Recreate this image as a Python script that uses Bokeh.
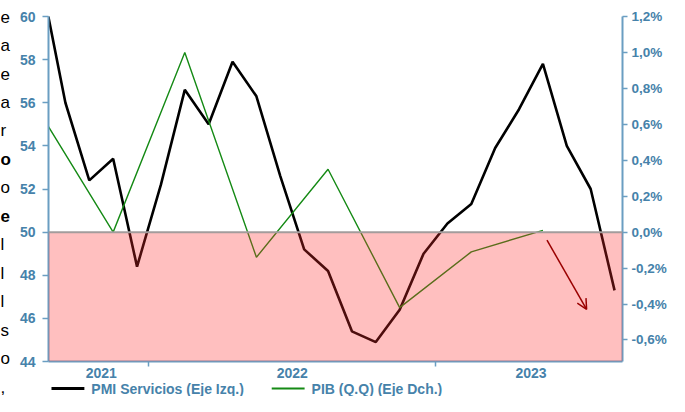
from bokeh.plotting import figure
from bokeh.models import (Range1d, LinearAxis, FixedTicker, CustomJSTickFormatter,
                          BoxAnnotation, Span, Arrow, OpenHead, ColumnDataSource)
from bokeh.layouts import row, column
from bokeh.core.properties import value
from bokeh.embed import file_html
from bokeh.resources import INLINE

# ---- data (monthly index 0 = Aug-2021 ... 24 = Aug-2023) ----
months = ["ago-21", "sep-21", "oct-21", "nov-21", "dic-21", "ene-22", "feb-22", "mar-22",
          "abr-22", "may-22", "jun-22", "jul-22", "ago-22", "sep-22", "oct-22", "nov-22",
          "dic-22", "ene-23", "feb-23", "mar-23", "abr-23", "may-23", "jun-23", "jul-23", "ago-23"]
month_idx = list(range(len(months)))
pmi_servicios = [61.6, 56.0, 52.4, 53.4, 48.4, 52.2, 56.6, 55.0, 57.9, 56.3, 52.6, 49.2,
                 48.2, 45.4, 44.9, 46.4, 49.0, 50.4, 51.3, 53.9, 55.7, 57.8, 54.0, 52.0, 47.3]
# quarterly GDP plotted on the middle month of each quarter
gdp_idx = [0, 3, 6, 9, 12, 15, 18, 21]
pib_qq = [0.65, 0.0, 1.0, -0.14, 0.35, -0.42, -0.11, 0.01]

year_labels = {2.5: "2021", 10.5: "2022", 20.5: "2023"}
year_bounds = [4.5, 16.5]
left_ticks = [44, 46, 48, 50, 52, 54, 56, 58, 60]
right_ticks = [-0.6, -0.4, -0.2, 0.0, 0.2, 0.4, 0.6, 0.8, 1.0, 1.2]

legend_labels = ["PMI Servicios (Eje Izq.)", "PIB (Q.Q) (Eje Dch.)"]
legend_colors = ["black", "#158A15"]
legend_widths = [3, 2]

side_letters = ["e", "a", "e", "a", "r", "o", "o", "e", "l", "l", "l", "s", "o", ","]
side_styles = ["normal"] * 5 + ["bold", "normal", "bold"] + ["normal"] * 6

AX_LINE = "#6A9EC2"
AX_TEXT = "#4682AA"
FONT = "Liberation Sans"

W_SIDE = 13
W_MAIN = 656
H_TOTAL = 396
H_MAIN = 380
H_LEG = H_TOTAL - H_MAIN
B_LEFT, B_RIGHT = 35, 45

def strip(width, height, xr, yr):
    fig = figure(width=width, height=height, x_range=xr, y_range=yr,
                 x_axis_location=None, y_axis_location=None,
                 output_backend="svg", toolbar_location=None,
                 min_border_left=0, min_border_right=0, min_border_top=0, min_border_bottom=0)
    fig.grid.visible = False
    fig.outline_line_color = None
    return fig

# ---------------- main chart ----------------
p = figure(width=W_MAIN, height=H_MAIN,
           x_range=Range1d(0.2917, 24.333), y_range=Range1d(44, 60),
           output_backend="svg", toolbar_location=None,
           min_border_left=B_LEFT, min_border_right=B_RIGHT, min_border_top=16, min_border_bottom=17)
p.extra_y_ranges = {"pct": Range1d(-0.72, 1.2)}
p.outline_line_color = None
p.xgrid.visible = False
p.ygrid.visible = False

p.line(month_idx, pmi_servicios, line_color="black", line_width=2.6)
p.line(gdp_idx, pib_qq, y_range_name="pct", line_color="#158A15", line_width=1.4)

# negative zone shading (drawn over the lines, translucent)
p.add_layout(BoxAnnotation(top=50, fill_color="#FF2A2A", fill_alpha=0.3, line_color=None))
p.add_layout(Span(location=50, dimension="width", line_color="#A39C9C", line_width=2))

p.add_layout(Arrow(end=OpenHead(size=10, line_color="#9A0000", line_width=1.5),
                   x_start=21.17, y_start=49.63, x_end=22.83, y_end=46.42,
                   line_color="#9A0000", line_width=1.5))

def style_axis(ax, size):
    ax.axis_line_color = AX_LINE
    ax.axis_line_width = 2
    ax.major_tick_line_color = AX_LINE
    ax.major_tick_line_width = 1.5
    ax.minor_tick_line_color = None
    ax.major_label_text_color = AX_TEXT
    ax.major_label_text_font = FONT
    ax.major_label_text_font_style = "bold"
    ax.major_label_text_font_size = size

yl = p.yaxis[0]
yl.ticker = FixedTicker(ticks=left_ticks)
style_axis(yl, "14px")
yl.major_tick_out = 6
yl.major_tick_in = 0
yl.major_label_standoff = 7

yr = LinearAxis(y_range_name="pct", ticker=FixedTicker(ticks=right_ticks),
                formatter=CustomJSTickFormatter(code="return tick.toFixed(1).replace('.', ',') + '%';"))
style_axis(yr, "13.5px")
yr.major_tick_out = 5
yr.major_tick_in = 0
yr.major_label_standoff = 4
p.add_layout(yr, "right")

xa = p.xaxis[0]
xa.ticker = FixedTicker(ticks=list(year_labels.keys()), minor_ticks=year_bounds)
xa.major_label_overrides = year_labels
style_axis(xa, "14px")
xa.major_tick_out = 0
xa.major_tick_in = 0
xa.minor_tick_line_color = AX_LINE
xa.minor_tick_line_width = 1.5
xa.minor_tick_out = 5
xa.minor_tick_in = 0
xa.major_label_standoff = 1

# ---------------- legend strip (its frame is aligned with the chart frame) ----------------
leg = strip(W_MAIN, H_LEG, Range1d(B_LEFT, W_MAIN - B_RIGHT), Range1d(0, H_LEG))
leg_x0 = [38, 259]
for x0, lab, col, lw in zip(leg_x0, legend_labels, legend_colors, legend_widths):
    leg.line([x0, x0 + 33], [H_LEG / 2, H_LEG / 2], line_color=col, line_width=lw)
    leg.text(x=[x0 + 40], y=[H_LEG / 2], text=[lab], text_align="left", text_baseline="middle",
             text_font=value(FONT), text_font_style="bold", text_font_size="14px",
             text_color=AX_TEXT)

# ---------------- cropped paragraph letters at the left edge ----------------
side = strip(W_SIDE, H_TOTAL, Range1d(0, W_SIDE), Range1d(H_TOTAL, 0))
side_src = ColumnDataSource(dict(x=[0] * len(side_letters),
                                 y=[16 + 28.5 * k for k in range(len(side_letters))],
                                 t=side_letters, s=side_styles))
side.text(x="x", y="y", text="t", source=side_src, text_align="left", text_baseline="middle",
          text_font=value(FONT), text_font_style="s", text_font_size="17px", text_color="black")

layout = row(side, column(p, leg, spacing=0), spacing=0)
open("out.html", "w").write(file_html(layout, INLINE))
